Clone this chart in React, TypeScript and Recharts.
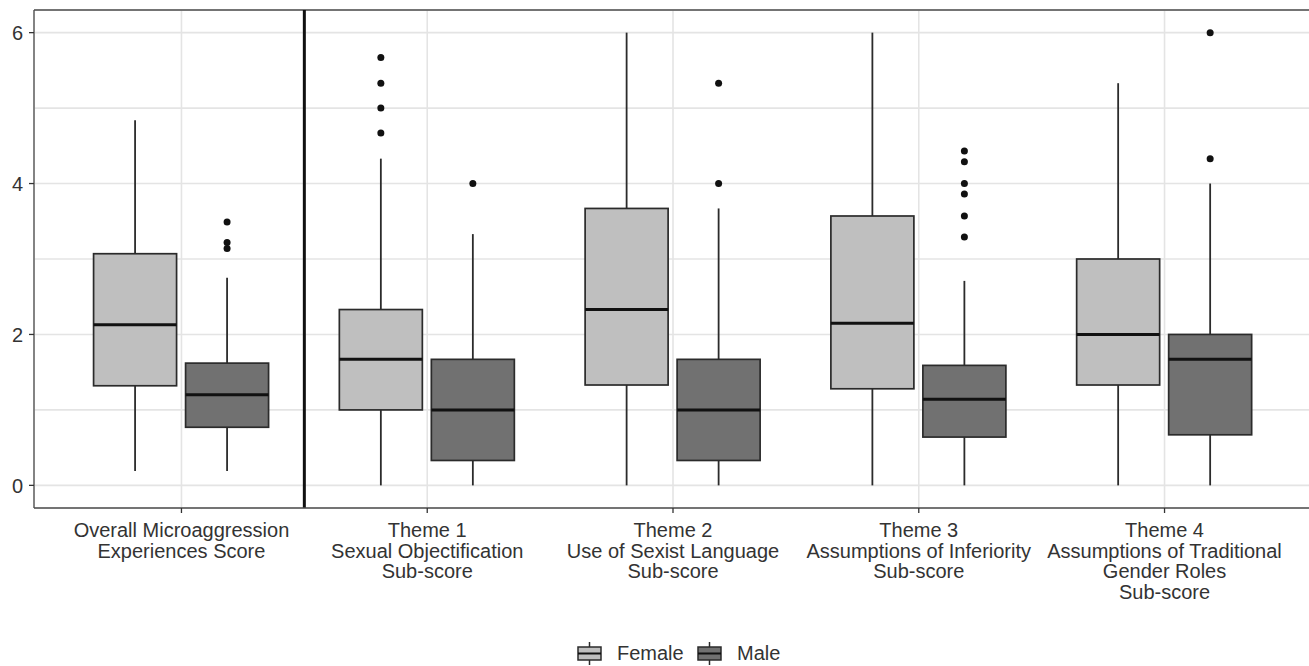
import React from "react";
import { ComposedChart, Bar, XAxis, YAxis, CartesianGrid, ReferenceLine, Legend } from "recharts";

const positions = [1, 2, 3, 4, 5];
const categoryLabels = [
  ["Overall Microaggression", "Experiences Score"],
  ["Theme 1", "Sexual Objectification", "Sub-score"],
  ["Theme 2", "Use of Sexist Language", "Sub-score"],
  ["Theme 3", "Assumptions of Inferiority", "Sub-score"],
  ["Theme 4", "Assumptions of Traditional", "Gender Roles", "Sub-score"],
];
const yTicks = [0, 1, 2, 3, 4, 5, 6];
const labelledTicks = [0, 2, 4, 6];

// female box stats
const femaleLow = [0.19, 0, 0, 0, 0];
const femaleQ1 = [1.32, 1.0, 1.33, 1.28, 1.33];
const femaleMedian = [2.13, 1.67, 2.33, 2.15, 2.0];
const femaleQ3 = [3.07, 2.33, 3.67, 3.57, 3.0];
const femaleHigh = [4.84, 4.33, 6.0, 6.0, 5.33];
const femaleOutliers = [[], [5.67, 5.33, 5.0, 4.67], [], [], []];

// male box stats
const maleLow = [0.19, 0, 0, 0, 0];
const maleQ1 = [0.77, 0.33, 0.33, 0.64, 0.67];
const maleMedian = [1.2, 1.0, 1.0, 1.14, 1.67];
const maleQ3 = [1.62, 1.67, 1.67, 1.59, 2.0];
const maleHigh = [2.75, 3.33, 3.67, 2.71, 4.0];
const maleOutliers = [
  [3.49, 3.22, 3.14],
  [4.0],
  [5.33, 4.0],
  [4.43, 4.29, 4.0, 3.86, 3.57, 3.29],
  [6.0, 4.33],
];

const FEMALE_FILL = "#bfbfbf";
const MALE_FILL = "#717171";
const FONT = "'Liberation Sans', Arial, Helvetica, sans-serif";
const TEXT = "#333";

const rows = positions.map((pos, i) => ({
  pos,
  female: [femaleLow[i], femaleHigh[i]],
  male: [maleLow[i], maleHigh[i]],
}));

function makeBox(low: number[], q1: number[], med: number[], q3: number[], high: number[], outliers: number[][], fill: string) {
  return (props: any) => {
    const { x, y, width, height, index } = props;
    const top = Math.min(y, y + height);
    const bottom = Math.max(y, y + height);
    const span = high[index] - low[index];
    const k = span > 0 ? (bottom - top) / span : 0;
    const py = (v: number) => bottom - (v - low[index]) * k;
    const cx = x + width / 2;
    const yq1 = py(q1[index]);
    const yq3 = py(q3[index]);
    return (
      <g>
        <line x1={cx} x2={cx} y1={py(high[index])} y2={yq3} stroke="#2b2b2b" strokeWidth={1.8} />
        <line x1={cx} x2={cx} y1={yq1} y2={py(low[index])} stroke="#2b2b2b" strokeWidth={1.8} />
        <rect x={x} y={yq3} width={width} height={yq1 - yq3} fill={fill} stroke="#2b2b2b" strokeWidth={1.7} />
        <line x1={x} x2={x + width} y1={py(med[index])} y2={py(med[index])} stroke="#111" strokeWidth={3} />
        {outliers[index].map((v, j) => (
          <circle key={j} cx={cx} cy={py(v)} r={3.5} fill="#111" />
        ))}
      </g>
    );
  };
}

const femaleBox = makeBox(femaleLow, femaleQ1, femaleMedian, femaleQ3, femaleHigh, femaleOutliers, FEMALE_FILL);
const maleBox = makeBox(maleLow, maleQ1, maleMedian, maleQ3, maleHigh, maleOutliers, MALE_FILL);

const YTick = (props: any) => {
  const { x, y, payload } = props;
  if (!labelledTicks.includes(payload.value)) return <g />;
  return (
    <g>
      <line x1={x + 5} x2={x + 10} y1={y} y2={y} stroke="#333" strokeWidth={1.3} />
      <text x={x - 1} y={y} dy="0.36em" textAnchor="end" fontFamily={FONT} fontSize={20} fill={TEXT}>
        {payload.value}
      </text>
    </g>
  );
};

const XTick = (props: any) => {
  const { x, y, payload } = props;
  const lines = categoryLabels[positions.indexOf(payload.value)] || [];
  return (
    <text textAnchor="middle" fontFamily={FONT} fontSize={20} fill={TEXT}>
      {lines.map((s, i) => (
        <tspan key={i} x={x} y={y + 22 + i * 20.5}>
          {s}
        </tspan>
      ))}
    </text>
  );
};

const legendItems = [
  { label: "Female", fill: FEMALE_FILL, kx: 578, tx: 617 },
  { label: "Male", fill: MALE_FILL, kx: 698, tx: 737 },
];

const LegendKeys = () => (
  <svg width={1312} height={46} style={{ display: "block" }}>
    {legendItems.map((it) => (
      <g key={it.label}>
        <line x1={it.kx + 11.5} x2={it.kx + 11.5} y1={22} y2={45} stroke="#2b2b2b" strokeWidth={1.5} />
        <rect x={it.kx} y={27} width={23} height={13} fill={it.fill} stroke="#2b2b2b" strokeWidth={1.5} />
        <line x1={it.kx} x2={it.kx + 23} y1={33.5} y2={33.5} stroke="#111" strokeWidth={2} />
        <text x={it.tx} y={40} fontFamily={FONT} fontSize={20} fill={TEXT}>
          {it.label}
        </text>
      </g>
    ))}
  </svg>
);

export default function App() {
  return (
    <div style={{ position: "absolute", left: 0, top: 0, width: 1309, height: 666, overflow: "hidden", background: "#fff" }}>
      <ComposedChart width={1312} height={666} data={rows} margin={{ top: 10, right: 0, bottom: 0, left: 0 }} barGap={9}>
        <CartesianGrid stroke="#e4e4e4" strokeWidth={1.6} />
        <XAxis
          dataKey="pos"
          type="number"
          domain={[0.4, 5.6]}
          ticks={positions}
          interval={0}
          allowDataOverflow
          height={112}
          tickSize={5}
          tickMargin={2}
          axisLine={{ stroke: "#4d4d4d", strokeWidth: 1.3 }}
          tickLine={{ stroke: "#333", strokeWidth: 1.3 }}
          tick={<XTick />}
        />
        <YAxis
          type="number"
          domain={[-0.3, 6.3]}
          ticks={yTicks}
          interval={0}
          allowDataOverflow
          width={34}
          tickSize={5}
          tickMargin={5}
          tickLine={false}
          axisLine={{ stroke: "#4d4d4d", strokeWidth: 1.3 }}
          tick={<YTick />}
        />
        <ReferenceLine y={6.3} stroke="#4d4d4d" strokeWidth={1.3} ifOverflow="visible" />
        <ReferenceLine x={1.5} stroke="#111" strokeWidth={3} ifOverflow="visible" />
        <Bar dataKey="female" barSize={83} shape={femaleBox} isAnimationActive={false} legendType="none" />
        <Bar dataKey="male" barSize={83} shape={maleBox} isAnimationActive={false} legendType="none" />
        <Legend verticalAlign="bottom" height={46} content={() => <LegendKeys />} wrapperStyle={{ left: 0, bottom: 0, height: 46 }} />
      </ComposedChart>
    </div>
  );
}
